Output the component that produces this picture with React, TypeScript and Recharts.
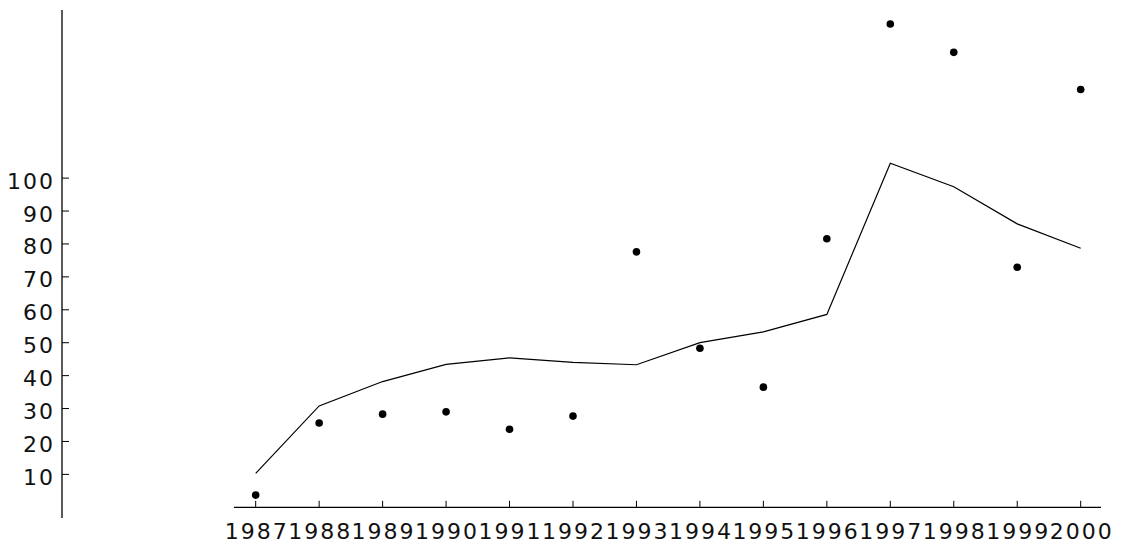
import { ComposedChart, Line, XAxis, YAxis, ReferenceLine } from "recharts";

const years = [1987, 1988, 1989, 1990, 1991, 1992, 1993, 1994, 1995, 1996, 1997, 1998, 1999, 2000];
const observed = [3.7, 25.6, 28.3, 29.0, 23.7, 27.7, 77.6, 48.3, 36.5, 81.6, 146.8, 138.2, 72.9, 126.9];
const fitted = [10.3, 30.8, 38.2, 43.4, 45.4, 44.0, 43.3, 50.0, 53.3, 58.6, 104.5, 97.4, 86.1, 78.7];
const yTicks = [10, 20, 30, 40, 50, 60, 70, 80, 90, 100];

const data = years.map((year, i) => ({ year, observed: observed[i], fitted: fitted[i] }));

const X_DOMAIN: [number, number] = [1983.948, 2000.32];
const Y_DOMAIN: [number, number] = [-3.25, 151.07];
const PX_PER_UNIT = 3.292;
// distance between plot bottom and the y = 0 line
const ZERO_OFFSET = -Y_DOMAIN[0] * PX_PER_UNIT;

const font = { fontFamily: "DejaVu Sans", fontSize: 22, letterSpacing: 2 };

const XTick = (props: any) => {
  const { x, y, payload } = props;
  const axisY = y - ZERO_OFFSET;
  return (
    <g>
      <line x1={x} x2={x} y1={axisY} y2={axisY - 6.5} stroke="#000" strokeWidth={1} />
      <text x={x + 1} y={y + 21.3} textAnchor="middle" fill="#111" style={font}>
        {payload.value}
      </text>
    </g>
  );
};

const YTick = (props: any) => {
  const { x, y, payload } = props;
  return (
    <g>
      <line x1={x} x2={x + 7} y1={y} y2={y} stroke="#000" strokeWidth={1} />
      <text x={x - 7} y={y + 10.5} textAnchor="end" fill="#111" style={font}>
        {payload.value}
      </text>
    </g>
  );
};

export default function App() {
  return (
    <div style={{ position: "absolute", left: 0, top: 0, background: "#fff" }}>
      <ComposedChart
        width={1122}
        height={547}
        data={data}
        margin={{ top: 10, right: 21, bottom: 0, left: 0 }}
      >
        <XAxis
          dataKey="year"
          type="number"
          domain={X_DOMAIN}
          ticks={years}
          allowDataOverflow
          height={29}
          axisLine={false}
          tickLine={false}
          tickSize={0}
          tickMargin={0}
          tick={XTick}
          interval={0}
        />
        <YAxis
          type="number"
          domain={Y_DOMAIN}
          ticks={yTicks}
          allowDataOverflow
          width={62}
          axisLine={{ stroke: "#000", strokeWidth: 1.3 }}
          tickLine={false}
          tickSize={0}
          tickMargin={0}
          tick={YTick}
          interval={0}
        />
        <ReferenceLine
          segment={[
            { x: 1986.658, y: 0 },
            { x: 2000.32, y: 0 },
          ]}
          stroke="#000"
          strokeWidth={1.3}
        />
        <Line
          type="linear"
          dataKey="fitted"
          stroke="#000"
          strokeWidth={1.2}
          dot={false}
          isAnimationActive={false}
        />
        <Line
          type="linear"
          dataKey="observed"
          stroke="none"
          dot={{ r: 3.8, fill: "#000", stroke: "none" }}
          activeDot={false}
          isAnimationActive={false}
        />
      </ComposedChart>
    </div>
  );
}
